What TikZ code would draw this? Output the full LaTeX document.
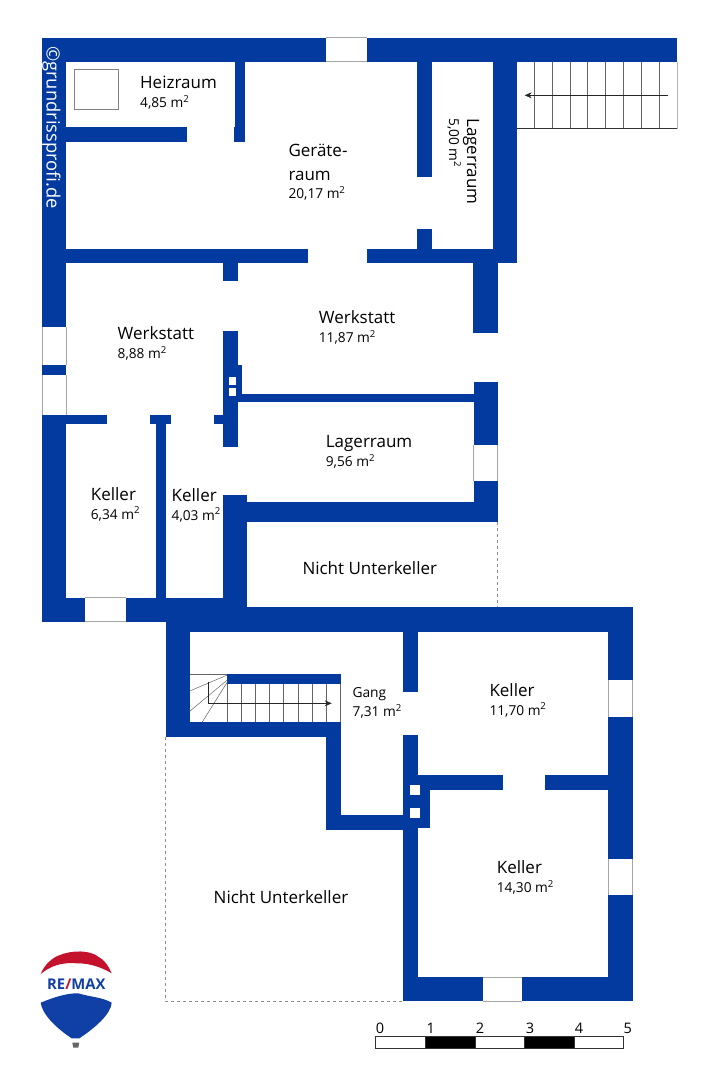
\documentclass[tikz,border=0pt]{standalone}
\usepackage{fontspec}
\setmainfont{Open Sans}
\usetikzlibrary{arrows.meta}
\definecolor{wallblue}{HTML}{033AA0}
\definecolor{logored}{HTML}{C5122C}
\definecolor{logoblue}{HTML}{103FA6}
\tikzset{
    wall/.style={fill=wallblue, draw=none},
    opening/.style={fill=white, draw=none},
    openingline/.style={draw=black!35, line width=0.6pt},
    thinline/.style={draw=black!60, line width=0.5pt},
    runarrow/.style={-{Stealth[length=7pt, width=6pt]}, draw=black!85, line width=0.6pt},
    outline/.style={draw=black!45, line width=0.5pt, dash pattern=on 3pt off 3pt},
    roomname/.style={anchor=base west, inner sep=0pt, font=\fontsize{17}{20}\selectfont},
    roomarea/.style={anchor=base west, inner sep=0pt, font=\fontsize{13.7}{16}\selectfont},
}
\begin{document}
\begin{tikzpicture}[x=1pt, y=-1pt]
    \useasboundingbox (0, 0) rectangle (716, 1080);
    % upper part walls
    \foreach \xa/\ya/\xb/\yb in {
        42/37.5/326/61.5, 366.7/37.5/677/61.5, 42/37.5/66/327, 42/365/66/375, 42/415/66/621.5,
        66/127.3/186.7/142, 233.7/127.3/245/142, 235.3/61/245/128,
        66/248.7/308.3/263.3, 223/263/237.7/280.7, 366.7/248.7/516.7/263.3,
        416.7/61/431.7/176.7, 416.7/229/431.7/249, 492.7/61/516.7/263.3, 473.3/248.7/497.7/333.3,
        223/330.7/237.7/446.7, 237/365/242/395, 237/394/474/402.3, 214.3/415/223.5/424,
        66/415/107.3/424, 150/415/171/424, 155.7/424/165.7/598,
        223/494.7/247.3/608, 238/502/497.7/522.3, 473.7/382/497.7/445, 473.7/481/497.7/522.3,
        42/597.5/85.3/621.5, 125.7/597.5/247.3/621.5}
        \fill[wall] (\xa, \ya) rectangle (\xb, \yb);
    % lower part walls
    \foreach \xa/\ya/\xb/\yb in {
        165.5/607.3/632.7/632, 608.3/607.3/632.7/680, 608.3/717/632.7/859, 608.3/895/632.7/1001.3,
        403.3/977.3/482.7/1001.3, 522/977.3/632.7/1001.3,
        165.7/607.3/189.7/736.7, 189/722/340.7/736.7, 326/722/340.7/830, 326/815.3/429.7/827.7,
        326/815.3/403.5/830, 403/632/418/691.7, 403/734.7/418/1001.3,
        417/775/502.7/790, 545/775/609/790, 417/789/429.7/827.7, 227.3/674.3/340.7/683.7}
        \fill[wall] (\xa, \ya) rectangle (\xb, \yb);
    % windows and outside doors
    \foreach \xa/\ya/\xb/\yb in {326/37.5/366.7/61.5, 85.3/597.5/125.7/621.5, 482.7/977.3/522/1001.3} {
        \path[opening] (\xa, \ya) rectangle (\xb, \yb);
        \draw[openingline] (\xa, \ya) -- (\xb, \ya);
        \draw[openingline] (\xa, \yb) -- (\xb, \yb);
    }
    \foreach \xa/\ya/\xb/\yb in {42/327/66/365, 42/375/66/415, 473.7/445/497.7/481, 608.3/680/632.7/717, 608.3/859/632.7/895} {
        \path[opening] (\xa, \ya) rectangle (\xb, \yb);
        \draw[openingline] (\xa, \ya) -- (\xa, \yb);
        \draw[openingline] (\xb, \ya) -- (\xb, \yb);
    }
    % chimneys
    \foreach \xa/\ya in {228.7/377, 228.7/388.3}
        \fill[white] (\xa, \ya) rectangle +(7.5, 7.5);
    \foreach \xa/\ya in {410.3/784.7, 410.3/807.7}
        \fill[white] (\xa, \ya) rectangle +(10, 10.3);
    \draw[thinline, draw=black!50] (74.3, 69.3) rectangle (118.3, 109.3);
    % not basement
    \draw[outline] (497.7, 522.3) -- (497.7, 607.3);
    \draw[outline] (165.7, 736.7) -- (165.7, 1001.3) -- (403.3, 1001.3);
    % stairs top right
    \foreach \x in {534.3, 552.3, 570.3, 587.7, 605.7, 623.7, 641.7, 659.7}
        \draw[thinline] (\x, 61.5) -- (\x, 128.7);
    \draw[draw=black!30, line width=0.6pt] (677, 61.5) -- (677, 128.7);
    \draw[draw=black!80, line width=0.7pt] (516.7, 128.7) -- (677, 128.7);
    \draw[runarrow] (667.7, 95.3) -- (524.7, 95.3);
    % stairs gang
    \foreach \x in {227.3, 241.3, 255.3, 269.7, 283.7, 298.3, 312.7, 326.7, 340.7}
        \draw[thinline] (\x, 683.7) -- (\x, 722);
    \draw[thinline] (227.3, 674.3) -- (189.7, 674.3);
    \draw[thinline] (227.3, 675) -- (189.7, 691);
    \draw[thinline] (227.3, 680) -- (189.7, 711.3);
    \draw[thinline] (227.3, 682) -- (202.3, 722);
    \draw[runarrow] (208.7, 681.7) -- (208.7, 703.3) -- (331.7, 703.3);
    % room labels
    \foreach \n/\x/\y/\rname/\rarea in {
        heizraum/140/88.3/Heizraum/{4,85},
        werkstattl/117.5/339.3/Werkstatt/{8,88},
        werkstattr/318.7/323.3/Werkstatt/{11,87},
        lagerraum/325.7/447.3/Lagerraum/{9,56},
        kellera/90.7/500/Keller/{6,34},
        kellerb/171.5/501/Keller/{4,03},
        kellerc/489.3/696/Keller/{11,70},
        kellerd/496.7/873.3/Keller/{14,30}} {
        \node[roomname] (\n) at (\x, \y) {\rname};
        \node[roomarea] (\n area) at (\x, \y+19) {\rarea{} m\textsuperscript{2}};
    }
    \node[roomname] (geraete) at (288.3, 156.7) {Geräte-};
    \node[roomname] (raum) at (288.3, 180) {raum};
    \node[roomarea] (raumarea) at (288.3, 198.7) {20,17 m\textsuperscript{2}};
    \node[roomarea, font=\fontsize{13.8}{16}\selectfont] (gang) at (352.3, 697.7) {Gang};
    \node[roomarea] (gangarea) at (352.5, 716.7) {7,31 m\textsuperscript{2}};
    \node[roomname, rotate=-90] (lagerr) at (467, 118) {Lagerraum};
    \node[roomarea, rotate=-90] (lagerrarea) at (449, 118) {5,00 m\textsuperscript{2}};
    \node[roomname] (nichta) at (302.3, 574.7) {Nicht Unterkeller};
    \node[roomname] (nichtb) at (213.5, 903) {Nicht Unterkeller};
    \node[roomname, rotate=-90, text=white, font=\fontsize{18.3}{20}\selectfont] (copyright) at (46.7, 46) {©grundrissprofi.de};
    % scale bar
    \foreach \i/\xa/\xb/\c in {0/375.7/425.3/white, 1/425.3/475/black, 2/475/524.7/white, 3/524.7/574.3/black, 4/574.3/623.7/white}
        \draw[draw=black!80, line width=0.6pt, fill=\c] (\xa, 1036) rectangle (\xb, 1048.3);
    \foreach \i/\x in {0/380, 1/430.7, 2/480, 3/530, 4/579, 5/627.7}
        \node[roomarea, anchor=base, font=\fontsize{14.5}{16}\selectfont] (scale\i) at (\x, 1033.7) {\i};
    % balloon logo
    \fill[logored] (40.7, 974) .. controls (44, 965) and (53, 957) .. (60, 955)
        .. controls (72, 950) and (90, 950) .. (98.3, 956.7)
        .. controls (105, 960) and (109, 967) .. (111.7, 973.3)
        .. controls (103, 968) and (90, 963) .. (76.7, 963.3)
        .. controls (62, 962) and (50, 966) .. (40.7, 974) -- cycle;
    \fill[logoblue] (40.7, 1002.7) .. controls (52, 998) and (66, 993) .. (78.3, 993.3)
        .. controls (90, 997) and (102, 997) .. (111.7, 1002.7)
        .. controls (111, 1014) and (95, 1028) .. (79.3, 1038.3)
        -- (71.7, 1038.3) .. controls (56, 1028) and (42, 1014) .. (40.7, 1002.7) -- cycle;
    \fill[black!60] (72.3, 1042.7) -- (79.3, 1042.7) -- (78.3, 1047.5) -- (73.3, 1047.5) -- cycle;
    \node[font=\fontsize{14.8}{16}\selectfont\bfseries, text=logoblue, inner sep=0pt] (remax) at (76.3, 984) {RE\textcolor{logored}{/}MAX};
\end{tikzpicture}
\end{document}
